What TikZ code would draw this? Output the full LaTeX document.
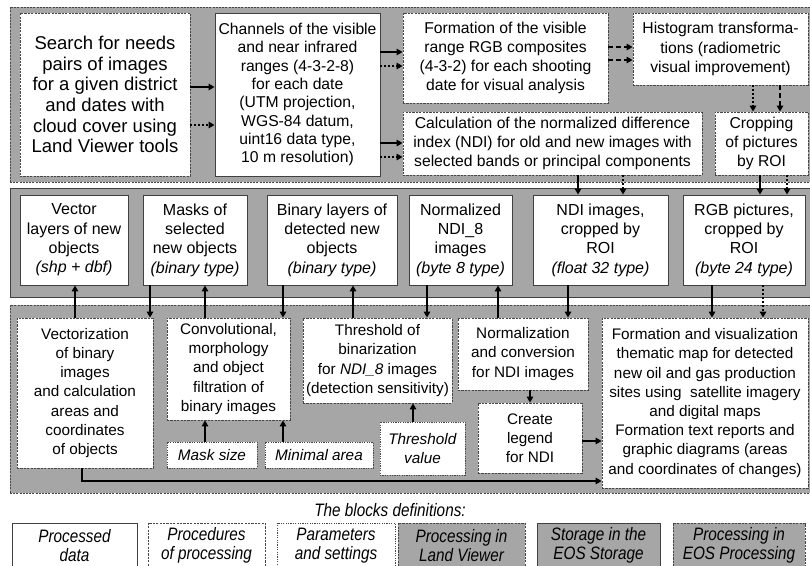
\documentclass[tikz,border=0pt]{standalone}
\usepackage{fontspec}
\setmainfont{Liberation Sans}
\newfontfamily\narrowfont[FakeStretch=0.85]{Liberation Sans}
\usetikzlibrary{arrows.meta}
\definecolor{panelgray}{RGB}{166,166,166}
\definecolor{dashgray}{RGB}{70,70,70}
\definecolor{boxline}{RGB}{64,64,64}
\begin{document}
\begin{tikzpicture}[x=1pt,y=-1pt,
  panelD/.style={fill=panelgray, draw=dashgray, line width=0.9pt, dash pattern=on 2pt off 1.2pt, inner sep=0pt},
  panelS/.style={fill=panelgray, draw=boxline, line width=1pt, inner sep=0pt},
  dbox/.style={draw=dashgray, fill=white, line width=0.85pt, dash pattern=on 2.2pt off 1.2pt, align=center, inner sep=1pt},
  pbox/.style={draw=dashgray, fill=white, line width=0.8pt, dash pattern=on 1.2pt off 1.2pt, align=center, inner sep=1pt},
  sbox/.style={draw=boxline, fill=white, line width=0.9pt, align=center, inner sep=1pt},
  gdbox/.style={draw=dashgray, fill=panelgray, line width=0.85pt, dash pattern=on 2.2pt off 1.2pt, align=center, inner sep=1pt},
  gsbox/.style={draw=boxline, fill=panelgray, line width=0.9pt, align=center, inner sep=1pt},
  fA/.style={font=\fontsize{18.5}{20.7}\selectfont},
  fB/.style={font=\fontsize{15.7}{18.3}\selectfont},
  fC/.style={font=\fontsize{15.7}{19.1}\selectfont},
  fD/.style={font=\fontsize{16}{19.3}\selectfont},
  fE/.style={font=\fontsize{15.3}{19.2}\selectfont},
  fL/.style={font=\narrowfont\itshape\fontsize{18}{18.5}\selectfont},
  arr/.style={line width=1.5pt, -{Triangle[length=6pt,width=6.5pt]}},
  darr/.style={arr, dash pattern=on 2pt off 2pt},
  dsharr/.style={arr, dash pattern=on 5pt off 3pt}]
\useasboundingbox (0,0) rectangle (810,565);

% ---------- panels ----------
\node[panelD, minimum width=802pt, minimum height=175pt] (p1) at (411,94.5) {};
\node[panelS, minimum width=802pt, minimum height=109pt] (p2) at (411,242.5) {};
\node[panelD, minimum width=802pt, minimum height=188pt] (p3) at (411,399) {};

% ---------- top panel ----------
\node[dbox, fA, minimum width=170pt, minimum height=163pt] (search) at (105,94.5)
  {Search for needs\\pairs of images\\for a given district\\and dates with\\cloud cover using\\Land Viewer tools};
\node[sbox, fB, minimum width=165pt, minimum height=163pt] (chan) at (297.5,94.5)
  {Channels of the visible\\and near infrared\\ranges (4-3-2-8)\\for each date\\(UTM projection,\\WGS-84 datum,\\uint16 data type,\\10 m resolution)};
\node[dbox, fC, minimum width=205pt, minimum height=90pt] (form) at (505.5,58)
  {Formation of the visible\\range RGB composites\\(4-3-2) for each shooting\\date for visual analysis};
\node[dbox, fC, minimum width=175pt, minimum height=72pt] (hist) at (720.5,49)
  {Histogram transforma-\\tions (radiometric\\visual improvement)};
\node[dbox, fC, minimum width=299pt, minimum height=63pt] (ndic) at (552.5,143.5)
  {Calculation of the normalized difference\\index (NDI) for old and new images with\\selected bands or principal components};
\node[dbox, fC, minimum width=93pt, minimum height=63pt] (crop) at (761.5,143.5)
  {Cropping\\of pictures\\by ROI};

% ---------- middle panel ----------
\node[sbox, fD, minimum width=108pt, minimum height=90pt] (vec) at (74,240)
  {Vector\\layers of new\\objects\\\textit{(shp + dbf)}};
\node[sbox, fD, minimum width=104pt, minimum height=90pt] (mask) at (195,240)
  {Masks of\\selected\\new objects\\\textit{(binary type)}};
\node[sbox, fD, minimum width=130pt, minimum height=90pt] (bin) at (332,240)
  {Binary layers of\\detected new\\objects\\\textit{(binary type)}};
\node[sbox, fD, minimum width=103pt, minimum height=90pt] (norm8) at (460.5,240)
  {Normalized\\NDI\_8\\images\\\textit{(byte 8 type)}};
\node[sbox, fD, minimum width=135pt, minimum height=90pt] (ndiimg) at (600.5,240)
  {NDI images,\\cropped by\\ROI\\\textit{(float 32 type)}};
\node[sbox, fD, minimum width=122pt, minimum height=90pt] (rgb) at (744,240)
  {RGB pictures,\\cropped by\\ROI\\\textit{(byte 24 type)}};

% ---------- bottom panel ----------
\node[dbox, fE, minimum width=136pt, minimum height=150pt] (vz) at (85,393)
  {Vectorization\\of binary\\images\\and calculation\\areas and\\coordinates\\of objects};
\node[dbox, fE, minimum width=123pt, minimum height=102pt] (conv) at (228.5,369)
  {Convolutional,\\morphology\\and object\\filtration of\\binary images};
\node[pbox, fE, minimum width=90pt, minimum height=26pt] (msize) at (212,455) {\textit{Mask size}};
\node[pbox, fE, minimum width=108pt, minimum height=26pt] (marea) at (319,455) {\textit{Minimal area}};
\node[dbox, fE, minimum width=149pt, minimum height=85pt] (thr) at (377.5,360.5)
  {Threshold of\\binarization\\for \textit{NDI\_8} images\\(detection sensitivity)};
\node[pbox, fE, minimum width=85pt, minimum height=53pt] (thv) at (422.5,448.5)
  {\textit{Threshold}\\\textit{value}};
\node[dbox, fE, minimum width=130pt, minimum height=72pt] (nrm) at (523,354)
  {Normalization\\and conversion\\for NDI images};
\node[dbox, fE, minimum width=104pt, minimum height=70pt] (leg) at (530,438)
  {Create\\legend\\for NDI};
\node[dbox, fE, minimum width=206pt, minimum height=170pt] (fv) at (705,403)
  {Formation and visualization\\thematic map for detected\\new oil and gas production\\sites using\ \ satellite imagery\\and digital maps\\Formation text reports and\\graphic diagrams (areas\\and coordinates of changes)};

% ---------- legend ----------
\node[fL] (legtitle) at (390,510) {The blocks definitions:};
\node[sbox, fL, minimum width=125pt, minimum height=45pt] (l1) at (74.5,545.5) {Processed\\data};
\node[dbox, fL, minimum width=117pt, minimum height=45pt] (l2) at (206.5,545.5) {Procedures\\of processing};
\node[pbox, fL, minimum width=118pt, minimum height=45pt] (l3) at (336,545.5) {Parameters\\and settings};
\node[gdbox, fL, minimum width=127pt, minimum height=45pt] (l4) at (461.5,545.5) {Processing in\\Land Viewer};
\node[gsbox, fL, minimum width=123pt, minimum height=45pt] (l5) at (598.5,545.5) {Storage in the\\EOS Storage};
\node[gdbox, fL, minimum width=132pt, minimum height=45pt] (l6) at (739,545.5) {Processing in\\EOS Processing};

% ---------- connectors: top panel ----------
\draw[arr]  (search.east |- 0,87)  -- (chan.west |- 0,87);
\draw[darr] (search.east |- 0,125) -- (chan.west |- 0,125);
\draw[arr]  (chan.east |- 0,52)  -- (form.west |- 0,52);
\draw[darr] (chan.east |- 0,66)  -- (form.west |- 0,66);
\draw[arr]  (chan.east |- 0,143) -- (ndic.west |- 0,143);
\draw[darr] (chan.east |- 0,157) -- (ndic.west |- 0,157);
\draw[dsharr] (form.east |- 0,47) -- (hist.west |- 0,47);
\draw[dsharr] (form.east |- 0,60) -- (hist.west |- 0,60);
\draw[darr]   (hist.south -| 753,0) -- (crop.north -| 753,0);
\draw[dsharr] (hist.south -| 780,0) -- (crop.north -| 780,0);
\draw[arr]  (ndic.south -| 578,0) -- (ndiimg.north -| 578,0);
\draw[darr] (ndic.south -| 623,0) -- (ndiimg.north -| 623,0);
\draw[arr]  (crop.south -| 760,0) -- (rgb.north -| 760,0);
\draw[darr] (crop.south -| 787,0) -- (rgb.north -| 787,0);

% ---------- connectors: middle <-> bottom ----------
\draw[arr] (vz.north -| 75,0) -- (vec.south -| 75,0);
\draw[arr] (mask.south -| 150,0) -- (vz.north -| 150,0);
\draw[arr] (conv.north -| 205,0) -- (mask.south -| 205,0);
\draw[arr] (bin.south -| 283,0) -- (conv.north -| 283,0);
\draw[arr] (thr.north -| 353,0) -- (bin.south -| 353,0);
\draw[arr] (norm8.south -| 427,0) -- (thr.north -| 427,0);
\draw[arr] (nrm.north -| 498,0) -- (norm8.south -| 498,0);
\draw[arr] (ndiimg.south -| 568,0) -- (nrm.north -| 568,0);
\draw[arr]  (rgb.south -| 712,0) -- (fv.north -| 712,0);
\draw[darr] (rgb.south -| 763,0) -- (fv.north -| 763,0);

% ---------- connectors: bottom panel ----------
\draw[arr] (msize.north -| 205,0) -- (conv.south -| 205,0);
\draw[arr] (marea.north -| 283,0) -- (conv.south -| 283,0);
\draw[arr] (thv.north -| 413,0) -- (thr.south -| 413,0);
\draw[arr] (nrm.south -| 530,0) -- (leg.north -| 530,0);
\draw[arr] (leg.east |- 0,441) -- (fv.west |- 0,441);
\draw[arr] (vz.south -| 82,0) |- (fv.west |- 0,481);
\end{tikzpicture}
\end{document}
